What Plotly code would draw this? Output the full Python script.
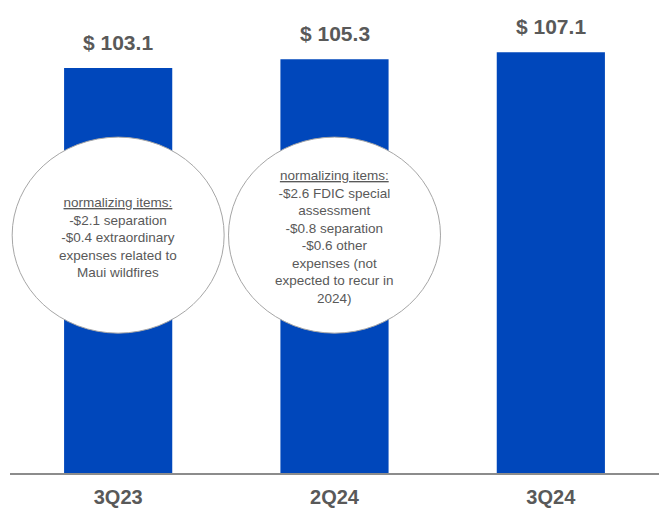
"""Quarterly expense bars with normalizing-item callouts."""

import plotly.graph_objects as go

quarters = ["3Q23", "2Q24", "3Q24"]
expenses = [103.1, 105.3, 107.1]
value_labels = ["$ 103.1", "$ 105.3", "$ 107.1"]

note_quarters = ["3Q23", "2Q24"]
note_lines = [
    ["-$2.1 separation", "-$0.4 extraordinary", "expenses related to", "Maui wildfires"],
    ["-$2.6 FDIC special", "assessment", "-$0.8 separation", "-$0.6 other",
     "expenses (not", "expected to recur in", "2024)"],
]
note_title = "normalizing items:"

_BLUE = "#0047bb"
_GREY_TEXT = "#595959"
_FONT = "Arial, Liberation Sans, sans-serif"

# callout ellipse extent in axis units
_NOTE_HALF_W = 0.49
_NOTE_Y0, _NOTE_Y1 = 35.6, 85.5

fig = go.Figure(go.Bar(
    x=quarters, y=expenses,
    marker={"color": _BLUE, "line": {"width": 0}},
    hoverinfo="skip",
))

for label, q, v in zip(value_labels, quarters, expenses):
    fig.add_annotation(
        x=q, y=v, text=label, showarrow=False,
        yanchor="bottom", yshift=12,
        font={"family": _FONT, "size": 21, "color": _GREY_TEXT, "weight": "bold"},
    )

for q, lines in zip(note_quarters, note_lines):
    i = quarters.index(q)
    fig.add_shape(
        type="circle", xref="x", yref="y",
        x0=i - _NOTE_HALF_W, x1=i + _NOTE_HALF_W, y0=_NOTE_Y0, y1=_NOTE_Y1,
        fillcolor="white", line={"color": "#a6a6a6", "width": 1},
    )
    fig.add_annotation(
        x=i, y=(_NOTE_Y0 + _NOTE_Y1) / 2, yshift=-2,
        text="<br>".join([f"<u>{note_title}</u>"] + lines),
        showarrow=False, align="center",
        font={"family": _FONT, "size": 13.5, "color": _GREY_TEXT},
    )

fig.update_layout(
    width=664, height=518,
    margin={"l": 10, "r": 5, "t": 0, "b": 45},
    paper_bgcolor="white", plot_bgcolor="white",
    bargap=0.5, showlegend=False,
)
fig.update_xaxes(
    showline=True, linecolor="#8c8c8c", linewidth=2,
    showgrid=False, ticks="", ticklabelstandoff=5,
    tickfont={"family": _FONT, "size": 20, "color": _GREY_TEXT, "weight": "bold"},
)
fig.update_yaxes(range=[0, 120.4], visible=False, showgrid=False)

# drop the browser's default body margin so the figure sits at the page corner
fig.write_html(
    "out.html",
    config={"displayModeBar": False},
    post_script="document.body.style.margin = '0';",
)
